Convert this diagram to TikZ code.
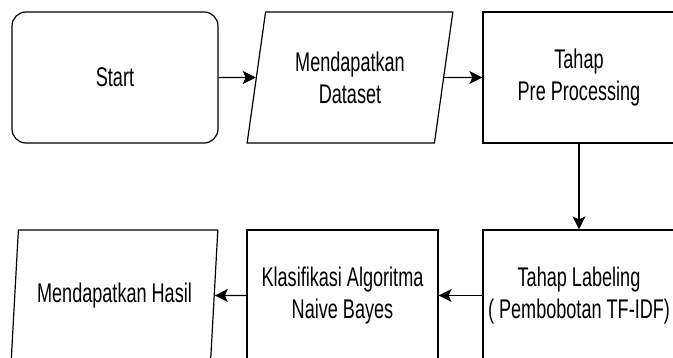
\documentclass[tikz,border=0pt]{standalone}
\usepackage{fontspec}
\setmainfont[FakeStretch=0.67]{Liberation Sans}
\usetikzlibrary{shapes.geometric,arrows.meta}
\begin{document}
\begin{tikzpicture}[x=1pt,y=-1pt,
  every node/.style={font=\fontsize{27}{32}\selectfont, align=center, inner sep=0pt, line width=1.2pt, draw=black},
  procbox/.style={rectangle, minimum height=131pt},
  startbox/.style={rectangle, rounded corners=14pt, minimum width=206pt, minimum height=131pt},
  iobox/.style={trapezium, trapezium left angle=77, trapezium right angle=103, trapezium stretches=true, minimum width=206pt, minimum height=131pt},
  flow/.style={line width=1.2pt, -{Stealth[length=13pt,width=13pt,inset=3pt]}}]
\useasboundingbox (0,0) rectangle (673,358);
\clip (0,0) rectangle (673,358);
\node[startbox] (S) at (115,77.5) {Start};
\node[iobox] (D) at (350,77.5) {Mendapatkan\\Dataset};
\node[procbox, minimum width=192pt] (P) at (579,77.5) {Tahap\\Pre Processing};
\node[procbox, minimum width=192pt] (L) at (579,295.5) {Tahap Labeling\\( Pembobotan TF-IDF)};
\node[procbox, minimum width=191pt] (K) at (342.5,295.5) {Klasifikasi Algoritma\\Naive Bayes};
\node[iobox, minimum width=207pt] (H) at (114.5,295.5) {Mendapatkan Hasil};
\draw[flow] (S) -- (D);
\draw[flow] (D) -- (P);
\draw[flow] (P) -- (L);
\draw[flow] (L) -- (K);
\draw[flow] (K) -- (H);
\end{tikzpicture}
\end{document}
